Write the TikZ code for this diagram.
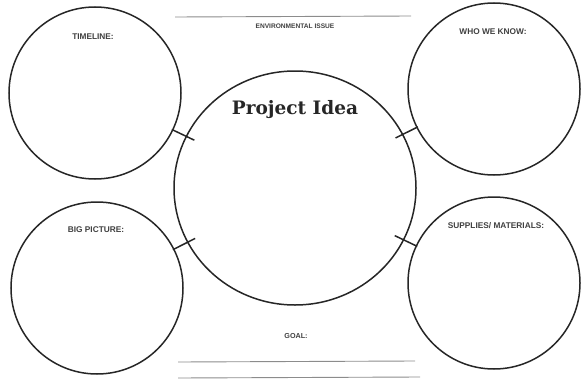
\documentclass[tikz,border=0pt]{standalone}
\usepackage{fontspec}
\setmainfont{Liberation Sans}
\newfontfamily\slabfont{DejaVu Serif}
\usetikzlibrary{calc,shapes.geometric}
\definecolor{ink}{HTML}{262626}
\definecolor{labelgray}{HTML}{404040}
\definecolor{rulegray}{HTML}{8C8C8C}
\begin{document}
\begin{tikzpicture}[x=1pt,y=-1pt,
  bubble/.style={circle,draw=ink,line width=1.5pt,minimum size=172pt,inner sep=0pt},
  hub/.style={ellipse,draw=ink,line width=1.5pt,minimum width=242pt,minimum height=234pt,inner sep=0pt},
  link/.style={draw=ink,line width=1.5pt},
  writeline/.style={draw=rulegray,line width=0.9pt},
  tag/.style={font=\bfseries\fontsize{8.3}{9}\selectfont,text=labelgray,inner sep=0pt},
  smalltag/.style={font=\bfseries\fontsize{6.6}{8}\selectfont,text=labelgray,inner sep=0pt},
  title/.style={font=\slabfont\bfseries\fontsize{18.5}{20}\selectfont,text=ink,inner sep=0pt}]
\useasboundingbox (0,0) rectangle (581,380);

% central idea and the four surrounding bubbles
\node[hub] (c) at (295,188) {};
\node[bubble] (tl) at (95,93) {};
\node[bubble] (tr) at (494,89) {};
\node[bubble] (bl) at (97,288) {};
\node[bubble] (br) at (494,283) {};

% short links joining each bubble to the centre
\foreach \b in {tl,tr,bl,br}
  \draw[link] ($(\b.center)!85pt!(c.center)$) -- ($(\b.center)!110pt!(c.center)$);

% writing rules
\coordinate (t1) at (175,17);  \coordinate (t2) at (411,16);
\coordinate (g1) at (178,362); \coordinate (g2) at (415,361);
\coordinate (h1) at (178,378); \coordinate (h2) at (420,377);
\draw[writeline] (t1) -- (t2);
\draw[writeline] (g1) -- (g2);
\draw[writeline] (h1) -- (h2);

% labels
\node[title,anchor=base] (ptitle) at (295,114) {Project Idea};
\node[smalltag] (env) at (295,26) {ENVIRONMENTAL ISSUE};
\node[smalltag,font=\bfseries\fontsize{7.2}{8}\selectfont] (goal) at (296,336) {GOAL:};
\node[tag] (ltime) at (93,37) {TIMELINE:};
\node[tag] (lwho) at (493,32) {WHO WE KNOW:};
\node[tag] (lbig) at (96,230) {BIG PICTURE:};
\node[tag] (lsup) at (496,226) {SUPPLIES/ MATERIALS:};
\end{tikzpicture}
\end{document}
